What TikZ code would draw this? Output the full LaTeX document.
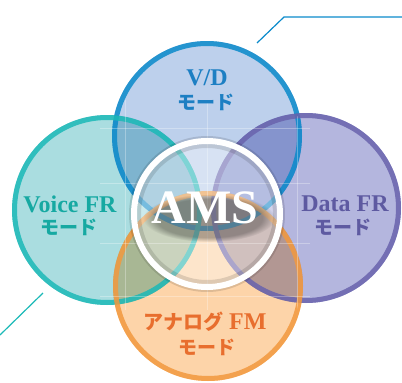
\documentclass[tikz,border=0pt]{standalone}
\usepackage{fontspec}
\setmainfont{Liberation Serif}
\newfontfamily\jp{Noto Sans CJK JP}
\usetikzlibrary{fadings}
\definecolor{vdfill}{HTML}{BDD0EC}
\definecolor{vdring}{HTML}{0A8ACB}
\definecolor{vdtext}{HTML}{1D7FC3}
\definecolor{vofill}{HTML}{AADDE0}
\definecolor{voring}{HTML}{1BB9B7}
\definecolor{votext}{HTML}{16A9A2}
\definecolor{dafill}{HTML}{B4B6DE}
\definecolor{daring}{HTML}{6963AD}
\definecolor{datext}{HTML}{5E5AA1}
\definecolor{anfill}{HTML}{FDD4A9}
\definecolor{anring}{HTML}{F2993F}
\definecolor{antext}{HTML}{E86E2E}
\begin{document}
\begin{tikzpicture}[x=1pt,y=-1pt,
  modefill/.style={circle, minimum size=190pt, inner sep=0pt},
  modering/.style={line width=5pt, opacity=0.85},
  lat/.style={font=\bfseries\fontsize{24}{24}\selectfont, inner sep=0pt},
  jpt/.style={font=\jp\bfseries\fontsize{19}{19}\selectfont, inner sep=0pt},
  leader/.style={line width=1.2pt},
  gridline/.style={white, opacity=0.3, line width=0.6pt}]
\useasboundingbox (0,0) rectangle (402,383);
% circle fills
\begin{scope}[blend mode=multiply]
\node[modefill, fill=vdfill] (vd) at (207,136) {};
\node[modefill, fill=vofill] (vo) at (107,210) {};
\node[modefill, fill=dafill] (da) at (306,208) {};
\node[modefill, fill=anfill] (an) at (208,286) {};
\end{scope}
% rings
\draw[modering, vdring] (vd.center) circle (92.5);
\draw[modering, voring] (vo.center) circle (92.5);
\draw[modering, daring] (da.center) circle (92.5);
\draw[modering, anring] (an.center) circle (92.5);
% faint grid
\begin{scope}
\clip (207,136) circle (92) (107,210) circle (92) (306,208) circle (92) (208,286) circle (92);
\foreach \yy in {128,183,243,296} \draw[gridline] (100,\yy) -- (310,\yy);
\foreach \xx in {125,207,297} \draw[gridline] (\xx,100) -- (\xx,310);
\end{scope}
% AMS circle
\fill[white, opacity=0.4] (207,214) circle (70);
\draw[black, opacity=0.12, line width=12pt] (207,214) circle (72);
\fill[black, opacity=0.3, path fading=circle with fuzzy edge 20 percent] (209,218) ellipse (66 and 24);
\node[circle, minimum size=146pt, inner sep=0pt, draw=white, line width=6pt] (ams) at (207,214) {};
\node[text=white, font=\bfseries\fontsize{48}{48}\selectfont, inner sep=0pt] (amst) at (205,208) {AMS};
% labels
\node[lat, text=vdtext] (vd1) at (207,78) {V/D};
\node[jpt, text=vdtext] (vd2) at (206,102) {モード};
\node[lat, text=votext] (vo1) at (70,204) {Voice FR};
\node[jpt, text=votext] (vo2) at (69,227) {モード};
\node[lat, text=datext] (da1) at (345,204) {Data FR};
\node[jpt, text=datext] (da2) at (343,227) {モード};
\node[lat, text=antext] (an1) at (205,322) {{\jp\bfseries\fontsize{20}{20}\selectfont アナログ} FM};
\node[jpt, text=antext] (an2) at (207,347) {モード};
% leaders
\coordinate (t1) at (257,43);
\coordinate (t2) at (284,17);
\coordinate (t3) at (402,17);
\coordinate (b1) at (43,293);
\coordinate (b2) at (0,335);
\draw[leader, vdring] (t1) -- (t2) -- (t3);
\draw[leader, voring] (b1) -- (b2);
\end{tikzpicture}
\end{document}
